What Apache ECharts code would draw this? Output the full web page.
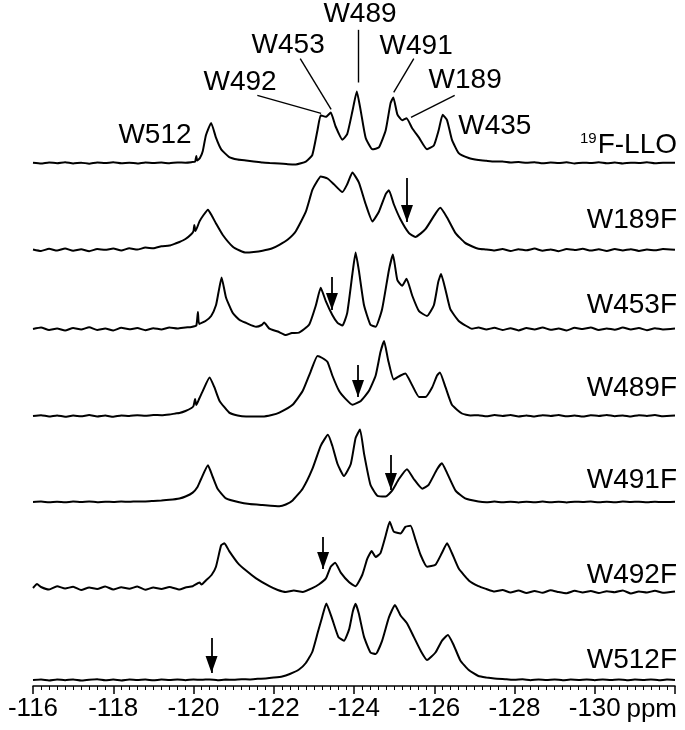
<!DOCTYPE html>
<html>
<head>
<meta charset="utf-8">
<script src="https://cdn.jsdelivr.net/npm/echarts@6/dist/echarts.min.js"></script>
<style>
  html, body { margin: 0; padding: 0; background: #fff; }
  #chart { width: 685px; height: 730px; }
</style>
</head>
<body>
<div id="chart"></div>
<script>
// 19F NMR spectra, [ppm, intensity] pairs
const traceNames = ['19F-LLO', 'W189F', 'W453F', 'W489F', 'W491F', 'W492F', 'W512F'];

const llo = [
  [-116.0,0.3],[-116.2,-0.5],[-116.4,0.6],[-116.6,-0.2],[-116.8,0.8],[-117.0,-0.4],[-117.2,0.4],[-117.4,-0.6],
  [-117.6,0.5],[-117.8,0],[-118.0,0.7],[-118.2,-0.3],[-118.4,0.4],[-118.6,-0.5],[-118.8,0.6],[-119.0,0],
  [-119.2,0.5],[-119.4,-0.2],[-119.6,0.6],[-119.8,0.4],[-119.95,0.9],[-120.04,1.5],[-120.07,7],[-120.09,2.5],
  [-120.16,5],[-120.23,11.8],[-120.31,28],[-120.44,40.3],[-120.56,25.5],[-120.69,13.8],[-120.89,6],[-121.1,3.5],
  [-121.31,2.5],[-121.5,1.6],[-121.72,0.5],[-121.9,0],[-122.14,-0.5],[-122.35,-1.2],[-122.55,-1.5],[-122.8,1.5],
  [-122.96,8],[-123.09,33],[-123.17,48],[-123.3,46.5],[-123.42,50.8],[-123.54,37],[-123.71,23.5],[-123.83,29],
  [-123.96,52],[-124.07,72],[-124.17,52],[-124.29,25.5],[-124.46,13.8],[-124.62,15.7],[-124.79,33],[-124.91,60],
  [-124.98,66],[-125.08,49],[-125.2,43],[-125.31,45],[-125.45,35],[-125.62,25.5],[-125.82,13.8],[-125.99,17.7],
  [-126.11,33],[-126.21,48.5],[-126.32,43],[-126.44,23.5],[-126.61,9.9],[-126.86,5],[-127.1,3],[-127.3,2.2],
  [-127.5,1.5],[-127.7,1.6],[-127.9,0.6],[-128.1,1],[-128.3,0.2],[-128.5,0.8],[-128.7,-0.3],[-128.9,0.5],
  [-129.1,0],[-129.3,0.7],[-129.5,-0.4],[-129.7,0.4],[-129.9,0],[-130.1,0.8],[-130.3,-0.2],[-130.5,0.5],
  [-130.7,-0.5],[-130.9,0.4],[-131.1,0.1],[-131.3,0.7],[-131.5,-0.3],[-131.7,0.4],[-132.0,0.3]
];

const w189f = [
  [-116.0,0.5],[-116.2,-1],[-116.4,1.2],[-116.6,-0.6],[-116.8,1.5],[-117.0,-0.8],[-117.2,0.8],[-117.4,-1.2],
  [-117.6,1],[-117.8,0.2],[-118.0,1.5],[-118.2,-0.5],[-118.4,1.8],[-118.6,0.4],[-118.8,2.4],[-119.0,1.8],
  [-119.2,3.8],[-119.4,4.4],[-119.55,6.5],[-119.65,8],[-119.8,11],[-119.95,16],[-120.0,19],[-120.02,25],
  [-120.05,19],[-120.15,28.6],[-120.25,35],[-120.36,40.3],[-120.46,34],[-120.56,26.6],[-120.73,15],[-120.98,3.2],
  [-121.15,-0.5],[-121.31,-2.6],[-121.5,-2],[-121.72,-0.7],[-121.95,1.5],[-122.14,5.2],[-122.35,10.5],[-122.55,18.8],
  [-122.8,38.3],[-122.96,59.8],[-123.07,68],[-123.17,73.5],[-123.34,71.5],[-123.5,65.7],[-123.71,57.9],[-123.83,65.7],
  [-123.96,77.4],[-124.12,67.6],[-124.29,46],[-124.46,28.6],[-124.62,38.3],[-124.79,55.9],[-124.87,59.8],[-124.99,46],
  [-125.16,30.5],[-125.37,16.9],[-125.53,13],[-125.78,20.8],[-126.03,36.4],[-126.15,42.2],[-126.32,32.5],[-126.53,16.9],
  [-126.77,7.1],[-126.95,3.5],[-127.1,1.3],[-127.3,0.5],[-127.5,-0.6],[-127.7,1],[-127.9,-1],[-128.1,0.8],
  [-128.3,-0.3],[-128.5,1.4],[-128.7,-0.8],[-128.9,0.6],[-129.1,-1.2],[-129.3,0.9],[-129.5,0],[-129.7,1.2],
  [-129.9,-0.6],[-130.1,0.7],[-130.3,-1],[-130.5,1],[-130.7,-0.4],[-130.9,0.8],[-131.1,-0.9],[-131.3,0.5],
  [-131.5,-0.3],[-131.7,1],[-132.0,0.2]
];

const w453f = [
  [-116.0,0],[-116.2,1.5],[-116.4,-1],[-116.6,0.5],[-116.8,-1.5],[-117.0,1],[-117.2,-0.5],[-117.4,1.8],
  [-117.6,-1],[-117.8,0.5],[-118.0,-1.5],[-118.2,1.2],[-118.4,-0.3],[-118.6,1],[-118.8,-1.2],[-119.0,0.8],
  [-119.2,-0.5],[-119.4,1.5],[-119.6,0.5],[-119.8,1.5],[-119.95,2],[-120.07,3.5],[-120.11,17],[-120.14,5],
  [-120.3,8],[-120.44,13],[-120.56,23.7],[-120.62,36],[-120.7,51.5],[-120.81,31.5],[-120.98,15.9],[-121.15,9],
  [-121.31,6.1],[-121.56,2.2],[-121.7,4],[-121.76,6.5],[-121.89,0.3],[-122.1,-2.5],[-122.3,-6],[-122.45,-4],
  [-122.63,-3.6],[-122.88,4.2],[-123.05,23.7],[-123.17,41.3],[-123.3,27.6],[-123.46,14],[-123.59,6.1],[-123.71,3.4],
  [-123.83,15.9],[-123.96,55],[-124.04,76.4],[-124.12,58.8],[-124.25,23.7],[-124.41,4.2],[-124.54,2.2],[-124.7,19.8],
  [-124.87,58.8],[-124.97,74.4],[-125.08,49],[-125.2,43.2],[-125.31,50.2],[-125.45,33.5],[-125.62,17.8],[-125.82,13],
  [-125.99,23.7],[-126.1,47.1],[-126.17,55],[-126.28,39.3],[-126.4,19.8],[-126.61,8],[-126.8,3],[-126.94,0.3],
  [-127.1,1.5],[-127.3,-0.5],[-127.5,1.2],[-127.7,-1],[-127.9,0.8],[-128.1,-1.4],[-128.3,1],[-128.5,-0.6],
  [-128.7,1.6],[-128.9,-0.8],[-129.1,0.5],[-129.3,-1.5],[-129.5,1.2],[-129.7,0],[-129.9,1.5],[-130.1,-1],
  [-130.3,0.6],[-130.5,-0.8],[-130.7,1.4],[-130.9,-0.5],[-131.1,1],[-131.3,-1.2],[-131.5,0.7],[-131.7,-0.4],
  [-132.0,0.5]
];

const w489f = [
  [-116.0,0],[-116.2,0.8],[-116.4,-0.5],[-116.6,0.6],[-116.8,-0.8],[-117.0,0.5],[-117.2,-0.3],[-117.4,0.9],
  [-117.6,-0.6],[-117.8,0.4],[-118.0,-0.8],[-118.2,0.6],[-118.4,0],[-118.6,0.8],[-118.8,0.2],[-119.0,1],
  [-119.2,0.8],[-119.4,1.5],[-119.55,2.5],[-119.65,3],[-119.8,5],[-119.95,8],[-120.0,10],[-120.04,17],
  [-120.07,11],[-120.15,18],[-120.23,24.9],[-120.4,38.5],[-120.52,28.8],[-120.65,15.1],[-120.89,3.4],[-121.1,0.5],
  [-121.31,-0.5],[-121.72,-0.5],[-121.95,1],[-122.14,3.4],[-122.47,11.2],[-122.72,24.9],[-122.92,44.4],[-123.09,60],
  [-123.21,58],[-123.34,54.1],[-123.46,40.5],[-123.63,24.9],[-123.79,17.1],[-123.96,11.2],[-124.17,15.1],[-124.37,24.9],
  [-124.54,40.5],[-124.66,63.9],[-124.75,75],[-124.85,56.1],[-124.99,36.6],[-125.16,40.5],[-125.28,42.4],[-125.45,30.7],
  [-125.62,19],[-125.78,19],[-125.95,28.8],[-126.07,40.5],[-126.14,43.6],[-126.28,28.8],[-126.44,11.2],[-126.69,2.5],
  [-126.9,0.5],[-127.1,0.8],[-127.3,-0.3],[-127.5,0.9],[-127.7,0],[-127.9,1],[-128.1,-0.4],[-128.3,0.6],
  [-128.5,-0.5],[-128.7,0.8],[-128.9,0],[-129.1,1],[-129.3,-0.3],[-129.5,0.5],[-129.7,-0.6],[-129.9,0.7],
  [-130.1,0.1],[-130.3,1.1],[-130.5,-0.2],[-130.7,0.6],[-130.9,-0.5],[-131.1,0.8],[-131.3,0],[-131.5,0.9],
  [-131.7,-0.2],[-132.0,0.4]
];

const w491f = [
  [-116.0,0],[-116.2,0.4],[-116.4,-0.3],[-116.6,0.3],[-116.8,-0.2],[-117.0,0.4],[-117.2,0],[-117.4,0.5],
  [-117.6,-0.2],[-117.8,0.3],[-118.0,0],[-118.2,0.5],[-118.4,0.2],[-118.6,0.6],[-118.8,0.5],[-119.0,1],
  [-119.2,1.5],[-119.4,2.2],[-119.65,3.6],[-119.8,5.5],[-119.98,9.4],[-120.1,15],[-120.19,23],[-120.36,36.7],
  [-120.48,25],[-120.6,13.3],[-120.81,3.6],[-121.14,-0.3],[-121.4,-2],[-121.72,-3],[-122.14,-4.2],[-122.3,-2.5],
  [-122.47,1.6],[-122.72,13.3],[-122.96,32.8],[-123.17,56.2],[-123.35,67.2],[-123.46,56.2],[-123.59,38],[-123.75,26],
  [-123.92,38],[-124.04,64],[-124.15,72.6],[-124.25,48.4],[-124.41,17.2],[-124.58,6.3],[-124.79,5.5],[-124.95,11.4],
  [-125.12,23],[-125.32,32.8],[-125.49,23],[-125.7,13.3],[-125.86,17.2],[-126.07,32.8],[-126.19,38.7],[-126.32,28.9],
  [-126.53,11.4],[-126.77,3.6],[-127.1,0.5],[-127.3,-0.2],[-127.5,0.4],[-127.7,-0.3],[-127.9,0.3],[-128.1,-0.4],
  [-128.3,0.2],[-128.5,-0.2],[-128.7,0.4],[-128.9,-0.3],[-129.1,0.2],[-129.3,-0.4],[-129.5,0.3],[-129.7,0],
  [-129.9,0.4],[-130.1,-0.3],[-130.3,0.2],[-130.5,-0.2],[-130.7,0.4],[-130.9,0],[-131.1,0.3],[-131.3,-0.3],
  [-131.5,0.2],[-131.7,-0.1],[-132.0,0.2]
];

const w492f = [
  [-116.0,0],[-116.1,4],[-116.2,1],[-116.4,-1.5],[-116.6,1.8],[-116.8,-0.5],[-117.0,1.2],[-117.2,-2],
  [-117.4,0.5],[-117.6,-1],[-117.8,1.5],[-118.0,-1.5],[-118.2,0.8],[-118.4,-0.8],[-118.6,1.5],[-118.8,-1.8],
  [-119.0,0.5],[-119.2,-1],[-119.4,1],[-119.65,-1.5],[-119.8,0.5],[-119.98,1.8],[-120.15,5.5],[-120.2,3.5],
  [-120.31,7.6],[-120.45,13],[-120.56,21.3],[-120.69,42.8],[-120.77,44.7],[-120.89,36.9],[-121.1,25.2],[-121.31,17.4],
  [-121.56,9.6],[-121.89,1.8],[-122.1,-2],[-122.3,-4],[-122.5,-2.5],[-122.72,-4],[-122.96,-0.2],[-123.13,3.7],
  [-123.3,9.6],[-123.42,21.3],[-123.53,25.2],[-123.67,15.4],[-123.88,5.7],[-124.04,1.8],[-124.21,13.5],[-124.33,29.1],
  [-124.44,36.9],[-124.54,31],[-124.66,34.9],[-124.79,52.5],[-124.89,66.2],[-124.99,56.4],[-125.16,54.5],[-125.28,61.1],
  [-125.41,62.3],[-125.53,48.6],[-125.66,33],[-125.82,21.3],[-126.03,23.3],[-126.19,35],[-126.32,44.7],[-126.44,35],
  [-126.61,19.4],[-126.86,7.6],[-127.1,1.8],[-127.3,-1],[-127.5,-3.5],[-127.7,-2],[-127.9,-4.5],[-128.1,-2.5],
  [-128.3,-5],[-128.5,-3],[-128.7,-4.8],[-128.9,-2.2],[-129.1,-4],[-129.3,-5.2],[-129.5,-2.8],[-129.7,-4.5],
  [-129.9,-3],[-130.1,-5],[-130.3,-3.2],[-130.5,-4.2],[-130.7,-2.5],[-130.9,-5.5],[-131.1,-3.5],[-131.3,-4.5],
  [-131.5,-2.8],[-131.7,-4.8],[-132.0,-3.5]
];

const w512f = [
  [-116.0,0],[-116.2,0.5],[-116.4,-0.4],[-116.6,0.6],[-116.8,-0.2],[-117.0,0.5],[-117.2,-0.5],[-117.4,0.3],
  [-117.6,0.8],[-117.8,-0.2],[-118.0,0.4],[-118.2,-0.4],[-118.4,0.6],[-118.6,0],[-118.8,0.5],[-119.0,-0.3],
  [-119.2,0.4],[-119.4,0],[-119.6,0.6],[-119.8,-0.2],[-120.0,0.5],[-120.2,0.2],[-120.4,0.6],[-120.6,-0.2],
  [-120.8,0.4],[-121.0,0.3],[-121.2,0.8],[-121.4,0.6],[-121.6,1.2],[-121.8,1.6],[-122.0,2.4],[-122.21,3.5],
  [-122.4,6],[-122.63,10.5],[-122.8,17],[-122.96,28],[-123.1,48],[-123.2,62],[-123.31,76.5],[-123.46,60.6],
  [-123.61,43.1],[-123.75,39.2],[-123.88,50.9],[-123.97,68.4],[-124.04,76.2],[-124.12,66.5],[-124.25,43.1],[-124.41,27.5],
  [-124.54,26],[-124.7,39.2],[-124.87,62.6],[-125.02,75],[-125.16,64.5],[-125.32,56.7],[-125.49,43.1],[-125.66,29.4],
  [-125.82,20],[-126.03,27.5],[-126.19,39.2],[-126.34,45],[-126.48,35.3],[-126.65,19.6],[-126.86,9.9],[-127.1,4],
  [-127.3,2.5],[-127.5,1.5],[-127.8,0.8],[-128.0,0.2],[-128.2,0.7],[-128.4,-0.2],[-128.6,0.5],[-128.8,0],
  [-129.0,0.6],[-129.2,-0.3],[-129.4,0.4],[-129.6,0.1],[-129.8,0.6],[-130.0,-0.2],[-130.2,0.5],[-130.4,0],
  [-130.6,0.6],[-130.8,-0.3],[-131.0,0.4],[-131.2,0.1],[-131.4,0.5],[-131.6,-0.2],[-131.8,0.4],[-132.0,0.1]
];

const traces = [llo, w189f, w453f, w489f, w491f, w492f, w512f];

// arrows (traces W189F..W512F): ppm, shaft top, arrow tip (intensity units)
const arrowPpm = [-125.32, -123.45, -124.1, -124.92, -123.23, -120.45];
const arrowTop = [72, 52, 51, 47, 51, 42];
const arrowTip = [28, 19, 19, 12, 19, 7];

// peak assignments on the top spectrum
const peakLabels = ['W512', 'W492', 'W453', 'W489', 'W491', 'W189', 'W435'];
const peakLabelAt = [[-119.04, 28], [-121.16, 81], [-122.36, 118], [-124.15, 150], [-125.55, 117], [-126.77, 83], [-127.51, 37]];
const leaderFrom = [null, [-121.59, 68], [-122.66, 105], [-124.1, 134], [-125.49, 105], [-126.51, 68], null];
const leaderTo   = [null, [-123.18, 50], [-123.43, 54], [-124.1, 81], [-124.99, 71], [-125.42, 46], null];

// trace name height above each baseline
const nameAt = [18, 30, 24, 28, 22, 13, 20];

const FONT = '"Liberation Sans", Arial, sans-serif';
const baselines = [163, 250, 329, 416, 502, 588, 680];

const chart = echarts.init(document.getElementById('chart'));

const grids = [], xAxes = [], yAxes = [], series = [];
traces.forEach(function (data, i) {
  grids.push({ left: 33, right: 10, top: baselines[i] - 164, height: 170 });
  const last = i === traces.length - 1;
  xAxes.push({
    gridIndex: i, type: 'value', min: -132, max: -116, inverse: true, interval: 2,
    show: last,
    axisLine: { show: true, onZero: false, lineStyle: { color: '#000', width: 1.5 } },
    axisTick: { show: true, length: 8, lineStyle: { color: '#000', width: 1.5 } },
    minorTick: { show: true, splitNumber: 10, length: 4, lineStyle: { color: '#000', width: 1 } },
    splitLine: { show: false },
    axisLabel: {
      color: '#000', fontSize: 26, margin: 10, fontFamily: FONT,
      formatter: function (v) { return v === -132 ? '' : String(v); }
    }
  });
  yAxes.push({ gridIndex: i, type: 'value', min: -6, max: 164, show: false, splitLine: { show: false } });

  const s = {
    type: 'line', name: traceNames[i], xAxisIndex: i, yAxisIndex: i, data: data,
    symbol: 'none', showSymbol: false, smooth: 0.15, clip: false, color: '#000',
    lineStyle: { color: '#000', width: 2 }, silent: true
  };
  if (i === 0) {
    const lines = [];
    leaderFrom.forEach(function (f, k) {
      if (f) lines.push([{ coord: f }, { coord: leaderTo[k] }]);
    });
    s.markLine = {
      silent: true, symbol: ['none', 'none'], label: { show: false },
      lineStyle: { color: '#000', width: 1.4, type: 'solid' },
      data: lines
    };
  } else {
    const k = i - 1;
    s.markLine = {
      silent: true, symbol: ['none', 'none'], label: { show: false },
      lineStyle: { color: '#000', width: 1.8, type: 'solid' },
      itemStyle: { color: '#000' },
      data: [[
        { coord: [arrowPpm[k], arrowTop[k]] },
        { coord: [arrowPpm[k], arrowTip[k]], symbol: 'triangle', symbolSize: [12, 17], symbolOffset: [0, 8.5] }
      ]]
    };
  }
  series.push(s);
});

chart.setOption({
  animation: false,
  backgroundColor: '#fff',
  textStyle: { fontFamily: FONT },
  grid: grids, xAxis: xAxes, yAxis: yAxes, series: series
});

// texts placed through the chart's own coordinate systems
const graphic = [];
traceNames.forEach(function (n, i) {
  const p = chart.convertToPixel({ gridIndex: i }, [-132, nameAt[i]]);
  const text = i === 0 ? '{s|19}F-LLO' : n;
  graphic.push({
    type: 'text', x: p[0] + 2, y: p[1],
    style: {
      text: text, fill: '#000', font: '28px ' + FONT, align: 'right', verticalAlign: 'middle',
      rich: { s: { fontSize: 15, fontFamily: FONT, fill: '#000', verticalAlign: 'top', lineHeight: 15, padding: [0, 1, 10, 0] } }
    }
  });
});
peakLabels.forEach(function (n, k) {
  const p = chart.convertToPixel({ gridIndex: 0 }, peakLabelAt[k]);
  graphic.push({
    type: 'text', x: p[0], y: p[1],
    style: { text: n, fill: '#000', font: '28px ' + FONT, align: 'center', verticalAlign: 'middle' }
  });
});
const pp = chart.convertToPixel({ gridIndex: 6 }, [-132, -6]);
graphic.push({
  type: 'text', x: pp[0] + 2, y: pp[1] + 24,
  style: { text: 'ppm', fill: '#000', font: '26px ' + FONT, align: 'right', verticalAlign: 'middle' }
});
chart.setOption({ graphic: graphic });
</script>
</body>
</html>
